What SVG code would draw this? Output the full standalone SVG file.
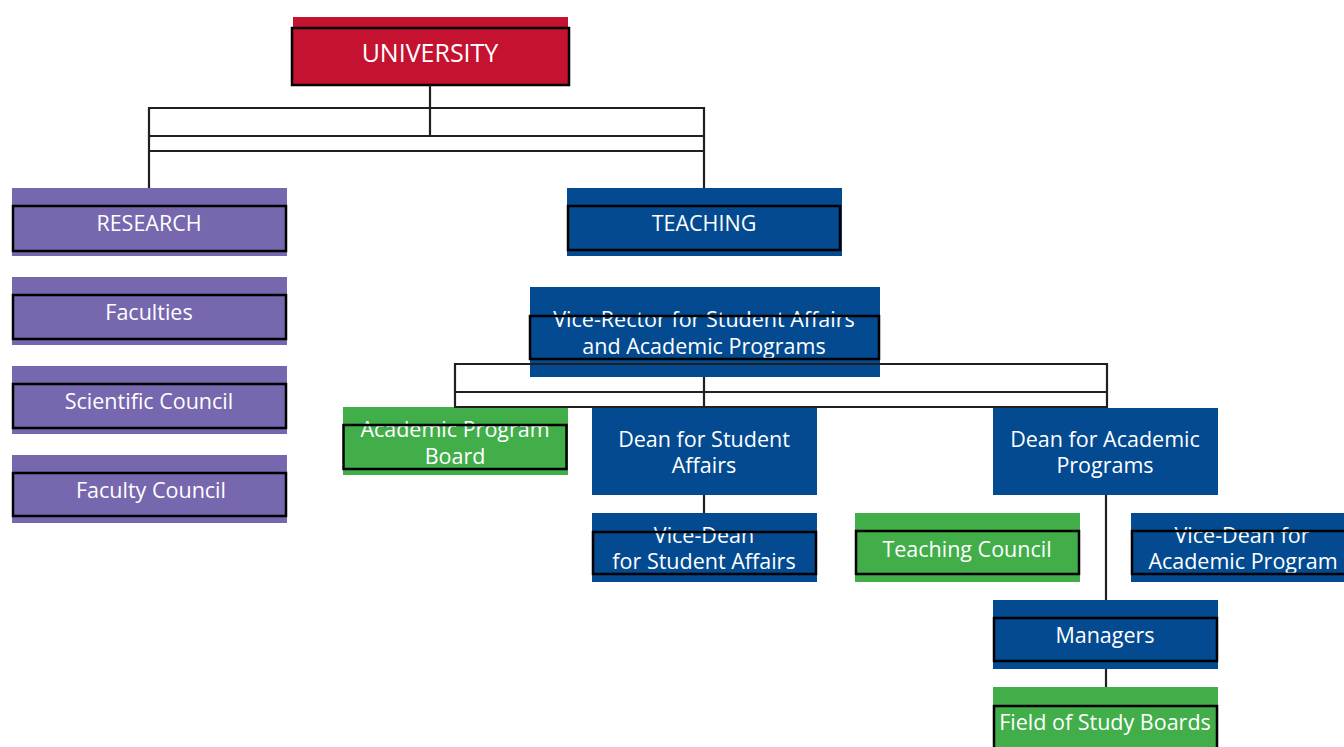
<svg xmlns="http://www.w3.org/2000/svg" width="1344" height="747" viewBox="0 0 1344 747">
<style>
.red{fill:#c41230}
.pur{fill:#7767ae}
.blu{fill:#034a91}
.grn{fill:#41ae4a}
.ol{fill:none;stroke:#000;stroke-width:2.5}
.t{font-family:"Open Sans","Liberation Sans",sans-serif;font-size:21.5px;fill:#fff;text-anchor:middle}
.big{font-size:25px}
.c{fill:none;stroke:#231f20;stroke-width:2.2}
</style>
<rect width="1344" height="747" fill="#fff"/>
<g id="university">
<rect class="red" x="293" y="17" width="275" height="68"/>
<text class="t big" x="430" y="62">UNIVERSITY</text>
<rect class="ol" x="292" y="28" width="277" height="57"/>
</g>
<g id="research">
<rect class="pur" x="12" y="188" width="275" height="68"/>
<text class="t" x="149" y="231">RESEARCH</text>
<rect class="ol" x="13" y="206" width="273" height="45"/>
</g>
<g id="faculties">
<rect class="pur" x="12" y="277" width="275" height="68"/>
<text class="t" x="149" y="320">Faculties</text>
<rect class="ol" x="13" y="295" width="273" height="44"/>
</g>
<g id="scientific-council">
<rect class="pur" x="12" y="366" width="275" height="68"/>
<text class="t" x="149" y="409">Scientific Council</text>
<rect class="ol" x="13" y="384" width="273" height="44"/>
</g>
<g id="faculty-council">
<rect class="pur" x="12" y="455" width="275" height="68"/>
<text class="t" x="151" y="498">Faculty Council</text>
<rect class="ol" x="13" y="473" width="273" height="43"/>
</g>
<g id="teaching">
<rect class="blu" x="567" y="188" width="275" height="68"/>
<text class="t" x="704" y="231">TEACHING</text>
<rect class="ol" x="568" y="206" width="272" height="44"/>
</g>
<g id="vice-rector">
<rect class="blu" x="530" y="287" width="350" height="90"/>
<text class="t" x="704" y="327">Vice-Rector for Student Affairs</text>
<text class="t" x="704" y="354">and Academic Programs</text>
<rect class="ol" x="530" y="316" width="349" height="43"/>
</g>
<g id="academic-program-board">
<rect class="grn" x="343" y="407" width="225" height="68"/>
<text class="t" x="455" y="437">Academic Program</text>
<text class="t" x="455" y="464">Board</text>
<rect class="ol" x="343.5" y="425" width="223" height="44"/>
</g>
<g id="dean-student-affairs">
<rect class="blu" x="592" y="408" width="225" height="87"/>
<text class="t" x="704" y="447">Dean for Student</text>
<text class="t" x="704" y="473">Affairs</text>
</g>
<g id="vice-dean-student-affairs">
<rect class="blu" x="592" y="513" width="225" height="69"/>
<text class="t" x="704" y="543">Vice-Dean</text>
<text class="t" x="704" y="569">for Student Affairs</text>
<rect class="ol" x="593" y="532" width="223" height="42"/>
</g>
<g id="dean-academic-programs">
<rect class="blu" x="993" y="408" width="225" height="87"/>
<text class="t" x="1105" y="447">Dean for Academic</text>
<text class="t" x="1105" y="473">Programs</text>
</g>
<g id="teaching-council">
<rect class="grn" x="855" y="513" width="225" height="69"/>
<text class="t" x="967" y="557">Teaching Council</text>
<rect class="ol" x="856" y="531" width="223" height="43"/>
</g>
<g id="vice-dean-academic-program">
<rect class="blu" x="1131" y="513" width="225" height="69"/>
<text class="t" x="1242" y="543">Vice-Dean for</text>
<text class="t" x="1243" y="569">Academic Program</text>
<rect class="ol" x="1132" y="531" width="223" height="43"/>
</g>
<g id="managers">
<rect class="blu" x="993" y="600" width="225" height="69"/>
<text class="t" x="1105" y="643">Managers</text>
<rect class="ol" x="994" y="618" width="223" height="43"/>
</g>
<g id="field-of-study-boards">
<rect class="grn" x="993" y="687" width="225" height="70"/>
<text class="t" x="1105" y="730">Field of Study Boards</text>
<rect class="ol" x="994" y="706" width="223" height="50"/>
</g>
<g id="connectors">
<path class="c" d="M430 85V136M149 108H704V151H149ZM149 136H704M149 151V188M704 151V188"/>
<path class="c" d="M455 364H1107V407H455ZM455 392H1107M704 377V407"/>
<path class="c" d="M704 495V513M1106 495V600M1106 669V687"/>
</g>
</svg>
